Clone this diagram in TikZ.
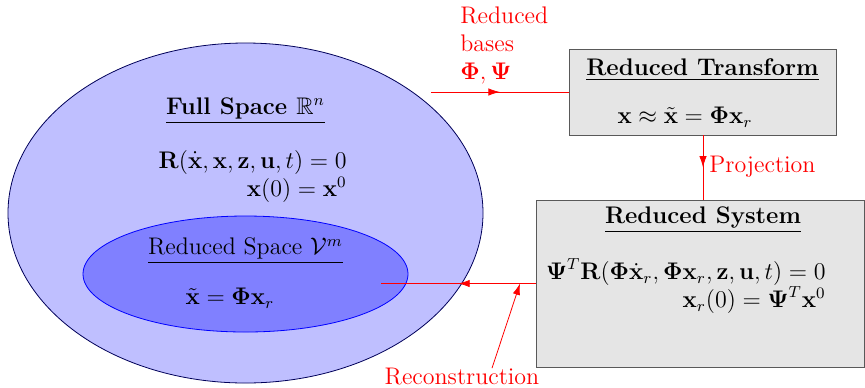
\documentclass[tikz,border=0pt]{standalone}
\usepackage{amsmath}
\usepackage{amssymb}
\usepackage{tikz}
\usetikzlibrary{arrows.meta, positioning, shapes.geometric, decorations.markings}
\usepackage{xcolor}

\begin{document}
\begin{tikzpicture}[
    x=0.5pt, y=-0.5pt,
    font=\large,
    space/.style={draw=blue!35!black, ellipse, inner sep=0pt},
    panel/.style={draw=black!65, fill=black!10, inner sep=0pt},
    title/.style={font=\large\bfseries},
    eqn/.style={align=right, inner sep=0pt},
    label/.style={text=red, inner sep=0pt},
    arrow/.style={red, -{Latex[length=2mm, width=1.3mm]}},
    midarrow/.style={red, postaction={decorate}, decoration={markings,
        mark=at position 0.5 with {\arrow{Latex[length=2mm, width=1.3mm]}}}}
]
\useasboundingbox (0,0) rectangle (865,387);

% --- Spaces ---
\node[space, fill=blue!25, minimum width=237.5pt, minimum height=170pt] (full) at (245.5,213) {};
\node[space, draw=blue, fill=blue!50, minimum width=162.5pt, minimum height=58pt] (red) at (245.5,274) {};

\node[title] (fulltitle) at (245.5,111) {\underline{Full Space $\mathbb{R}^n$}};
\node[eqn, anchor=east] (fulleq) at (347,176)
     {$\mathbf{R}(\dot{\mathbf{x}},\mathbf{x},\mathbf{z},\mathbf{u},t)=0$\\
      $\mathbf{x}(0)=\mathbf{x}^0$};

\node[title] (redtitle) at (245.5,251) {\underline{\mdseries Reduced Space $\mathcal{V}^m$}};
\node (redeq) at (230,298) {$\tilde{\mathbf{x}}=\boldsymbol{\Phi}\mathbf{x}_r$};

% --- Reduced transform ---
\node[panel, minimum width=133.5pt, minimum height=43pt] (tbox) at (702.5,92) {};
\node[title] (ttitle) at (702.5,70) {\underline{Reduced Transform}};
\node (teq) at (685,117) {$\mathbf{x}\approx\tilde{\mathbf{x}}=\boldsymbol{\Phi}\mathbf{x}_r$};

% --- Reduced system ---
\node[panel, minimum width=164pt, minimum height=83.5pt] (sbox) at (700,283.5) {};
\node[title] (stitle) at (703,220) {\underline{Reduced System}};
\node[eqn, anchor=east] (seq) at (826,286)
     {$\boldsymbol{\Psi}^T\mathbf{R}(\boldsymbol{\Phi}\dot{\mathbf{x}}_r,\boldsymbol{\Phi}\mathbf{x}_r,\mathbf{z},\mathbf{u},t)=0$\\
      $\mathbf{x}_r(0)=\boldsymbol{\Psi}^T\mathbf{x}^0$};

% --- Connectors ---
\coordinate (bstart) at (431,92);
\draw[midarrow] (bstart) -- (tbox.west);
\node[label, anchor=north west, align=left] (bases) at (460,6)
     {Reduced\\bases\\$\boldsymbol{\Phi},\boldsymbol{\Psi}$};

\draw[midarrow] (tbox.south -| 703,0) -- (sbox.north -| 703,0);
\node[label, anchor=west] (proj) at (709,167) {Projection};

\coordinate (rend) at (381,283.5);
\coordinate (rtip) at (520,283.5);
\draw[midarrow] (sbox.west) -- (rend);
\node[label] (recon) at (462,377) {Reconstruction};
\draw[arrow] ([xshift=15pt]recon.north) -- (rtip);

\end{tikzpicture}
\end{document}
